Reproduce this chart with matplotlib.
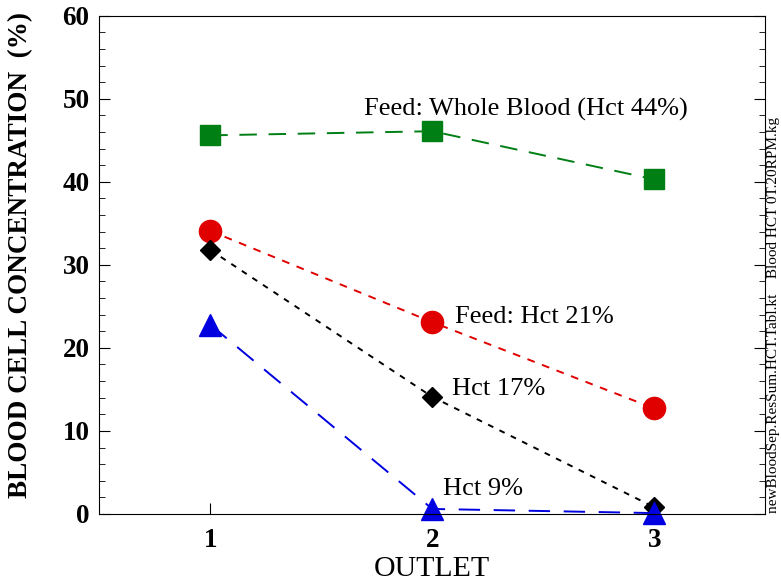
import matplotlib
matplotlib.use('Agg')
import matplotlib.pyplot as plt
from matplotlib.ticker import MultipleLocator

plt.rcParams['font.family'] = ['Liberation Serif', 'DejaVu Serif']

outlet = [1, 2, 3]
whole_blood = [45.6, 46.1, 40.3]
hct21 = [34.1, 23.1, 12.7]
hct17 = [31.8, 14.1, 0.8]
hct9 = [22.8, 0.6, 0.1]

fig = plt.figure(figsize=(7.81, 5.86), dpi=100)
ax = fig.add_axes([0.127, 0.123, 0.853, 0.850])

ax.plot(outlet, whole_blood, color='#007f14', ls=(0, (9, 6)), lw=1.4,
        marker='s', ms=15, mec='#007f14', mfc='#007f14')
ax.plot(outlet, hct21, color='#e00000', ls=(0, (4, 4)), lw=1.4,
        marker='o', ms=16, mec='#e00000', mfc='#e00000')
ax.plot(outlet, hct17, color='black', ls=(0, (3, 3.5)), lw=1.4,
        marker='D', ms=10, mec='black', mfc='black')
ax.plot(outlet, hct9, color='#0000e0', ls=(0, (11, 7)), lw=1.4,
        marker='^', ms=16, mec='#0000e0', mfc='#0000e0', clip_on=False)

ax.text(1.694, 48.0, 'Feed: Whole Blood (Hct 44%)', fontsize=19)
ax.text(2.104, 23.0, 'Feed: Hct 21%', fontsize=19)
ax.text(2.09, 14.3, 'Hct 17%', fontsize=19)
ax.text(2.05, 2.3, 'Hct 9%', fontsize=19)

ax.set_xlim(0.5, 3.5)
ax.set_ylim(0, 60)
ax.set_xticks(outlet)
ax.yaxis.set_major_locator(MultipleLocator(10))
ax.yaxis.set_minor_locator(MultipleLocator(2))
ax.tick_params(axis='y', which='both', direction='in', left=True, right=True)
ax.tick_params(axis='y', which='major', length=8, pad=7)
ax.tick_params(axis='y', which='minor', length=4)
ax.tick_params(axis='x', direction='in', length=8, top=False, pad=10)
for lab in ax.get_xticklabels() + ax.get_yticklabels():
    lab.set_fontweight('bold')
    lab.set_fontsize(19.5)

ax.set_xlabel('OUTLET', fontsize=21.5, labelpad=2)
ax.set_ylabel('BLOOD CELL CONCENTRATION  (%)', fontsize=19.5, fontweight='bold')
ax.yaxis.set_label_coords(-0.099, 0.52)

fig.text(0.9905, 0.800, 'newBloodSep.ResSum.HCT.Tabl.kt    Blood HCT 0T.20RPM.kg',
         rotation=90, fontsize=11, va='top', ha='center')

fig.savefig('out.png', dpi=100)
